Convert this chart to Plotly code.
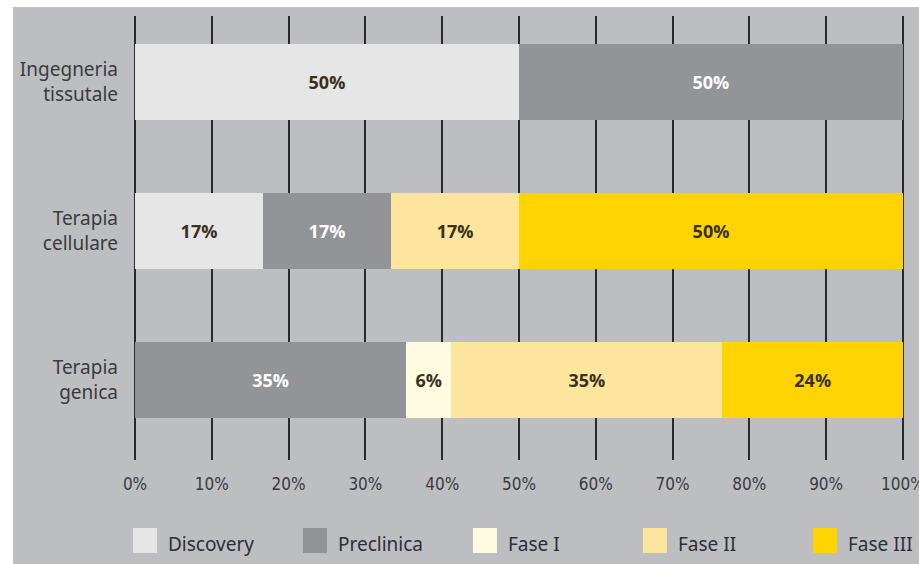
import plotly.graph_objects as go

# ---- data ----
categories = ["Terapia<br>genica", "Terapia<br>cellulare", "Ingegneria<br>tissutale"]
series_names = ["Discovery", "Preclinica", "Fase I", "Fase II", "Fase III"]
discovery = [0, 16.67, 50]
preclinica = [35.3, 16.67, 50]
fase1 = [5.9, 0, 0]
fase2 = [35.3, 16.67, 0]
fase3 = [23.5, 50, 0]
x_ticks = [0, 10, 20, 30, 40, 50, 60, 70, 80, 90, 100]
x_tick_labels = ["0%", "10%", "20%", "30%", "40%", "50%", "60%", "70%", "80%", "90%", "100%"]

series_values = [discovery, preclinica, fase1, fase2, fase3]
colors = ["#e6e6e6", "#939497", "#fffbe1", "#fee59d", "#ffd400"]
text_colors = ["#3a3020", "#ffffff", "#3a3020", "#3a3020", "#3a3020"]

BG = "#bdbec2"
W, H = 919, 564
X_MAX = 100.4
ML, MR, MT, MB = 135, 13, 16, 104
PW = W - ML - MR
PH = H - MT - MB


def px_x(px):
    return (px - ML) / PW


def px_y(py):
    return (H - MB - py) / PH


fig = go.Figure()
for name, vals, col, tcol in zip(series_names, series_values, colors, text_colors):
    fig.add_trace(go.Bar(
        y=categories, x=vals, name=name, orientation="h",
        marker=dict(color=col, line=dict(width=0)),
        text=[f"{round(v)}%" if v > 0 else "" for v in vals],
        textposition="inside", insidetextanchor="middle",
        textfont=dict(family="Open Sans", size=18, color=tcol, weight="bold"),
        constraintext="none",
        showlegend=False, width=0.515,
        hoverinfo="skip",
    ))

shapes = [
    dict(type="rect", xref="paper", yref="paper",
         x0=px_x(13), x1=px_x(W + 2), y0=px_y(H + 2), y1=px_y(7),
         fillcolor=BG, line=dict(width=0), layer="below"),
]
annotations = []
# manual legend
for i, (name, col) in enumerate(zip(series_names, colors)):
    x0 = 133 + 170 * i
    shapes.append(dict(type="rect", xref="paper", yref="paper",
                       x0=px_x(x0), x1=px_x(x0 + 24),
                       y0=px_y(553), y1=px_y(528),
                       fillcolor=col, line=dict(width=0), layer="above"))
    annotations.append(dict(xref="paper", yref="paper", x=px_x(x0 + 33), y=px_y(544),
                            text=name, showarrow=False, xanchor="left", yanchor="middle",
                            font=dict(family="Noto Sans", size=19, color="#2e2e3a")))

fig.update_layout(
    width=W, height=H,
    margin=dict(l=ML, r=MR, t=MT, b=MB, pad=0),
    barmode="stack",
    paper_bgcolor="white",
    plot_bgcolor=BG,
    shapes=shapes,
    annotations=annotations,
    showlegend=False,
    xaxis=dict(range=[0, X_MAX], tickmode="array", tickvals=x_ticks, ticktext=x_tick_labels,
               showgrid=True, gridcolor="#2a2a2a", gridwidth=1.5,
               zeroline=True, zerolinecolor="#2a2a2a", zerolinewidth=1.5,
               showline=False, ticks="", ticklabelstandoff=12,
               ticklabeloverflow="allow",
               tickfont=dict(family="Liberation Sans Narrow, DejaVu Sans Condensed, Open Sans",
                             size=17, color="#3a3a44"),
               automargin=False, fixedrange=True),
    yaxis=dict(range=[-0.537, 2.443], showgrid=False, zeroline=False, showline=False,
               ticks="", ticklabelstandoff=16,
               tickfont=dict(family="Noto Sans", size=19, color="#3a3a40"),
               automargin=False, fixedrange=True),
)

fig.write_html("out.html", config={"displayModeBar": False},
               post_script="document.body.style.margin='0';")
